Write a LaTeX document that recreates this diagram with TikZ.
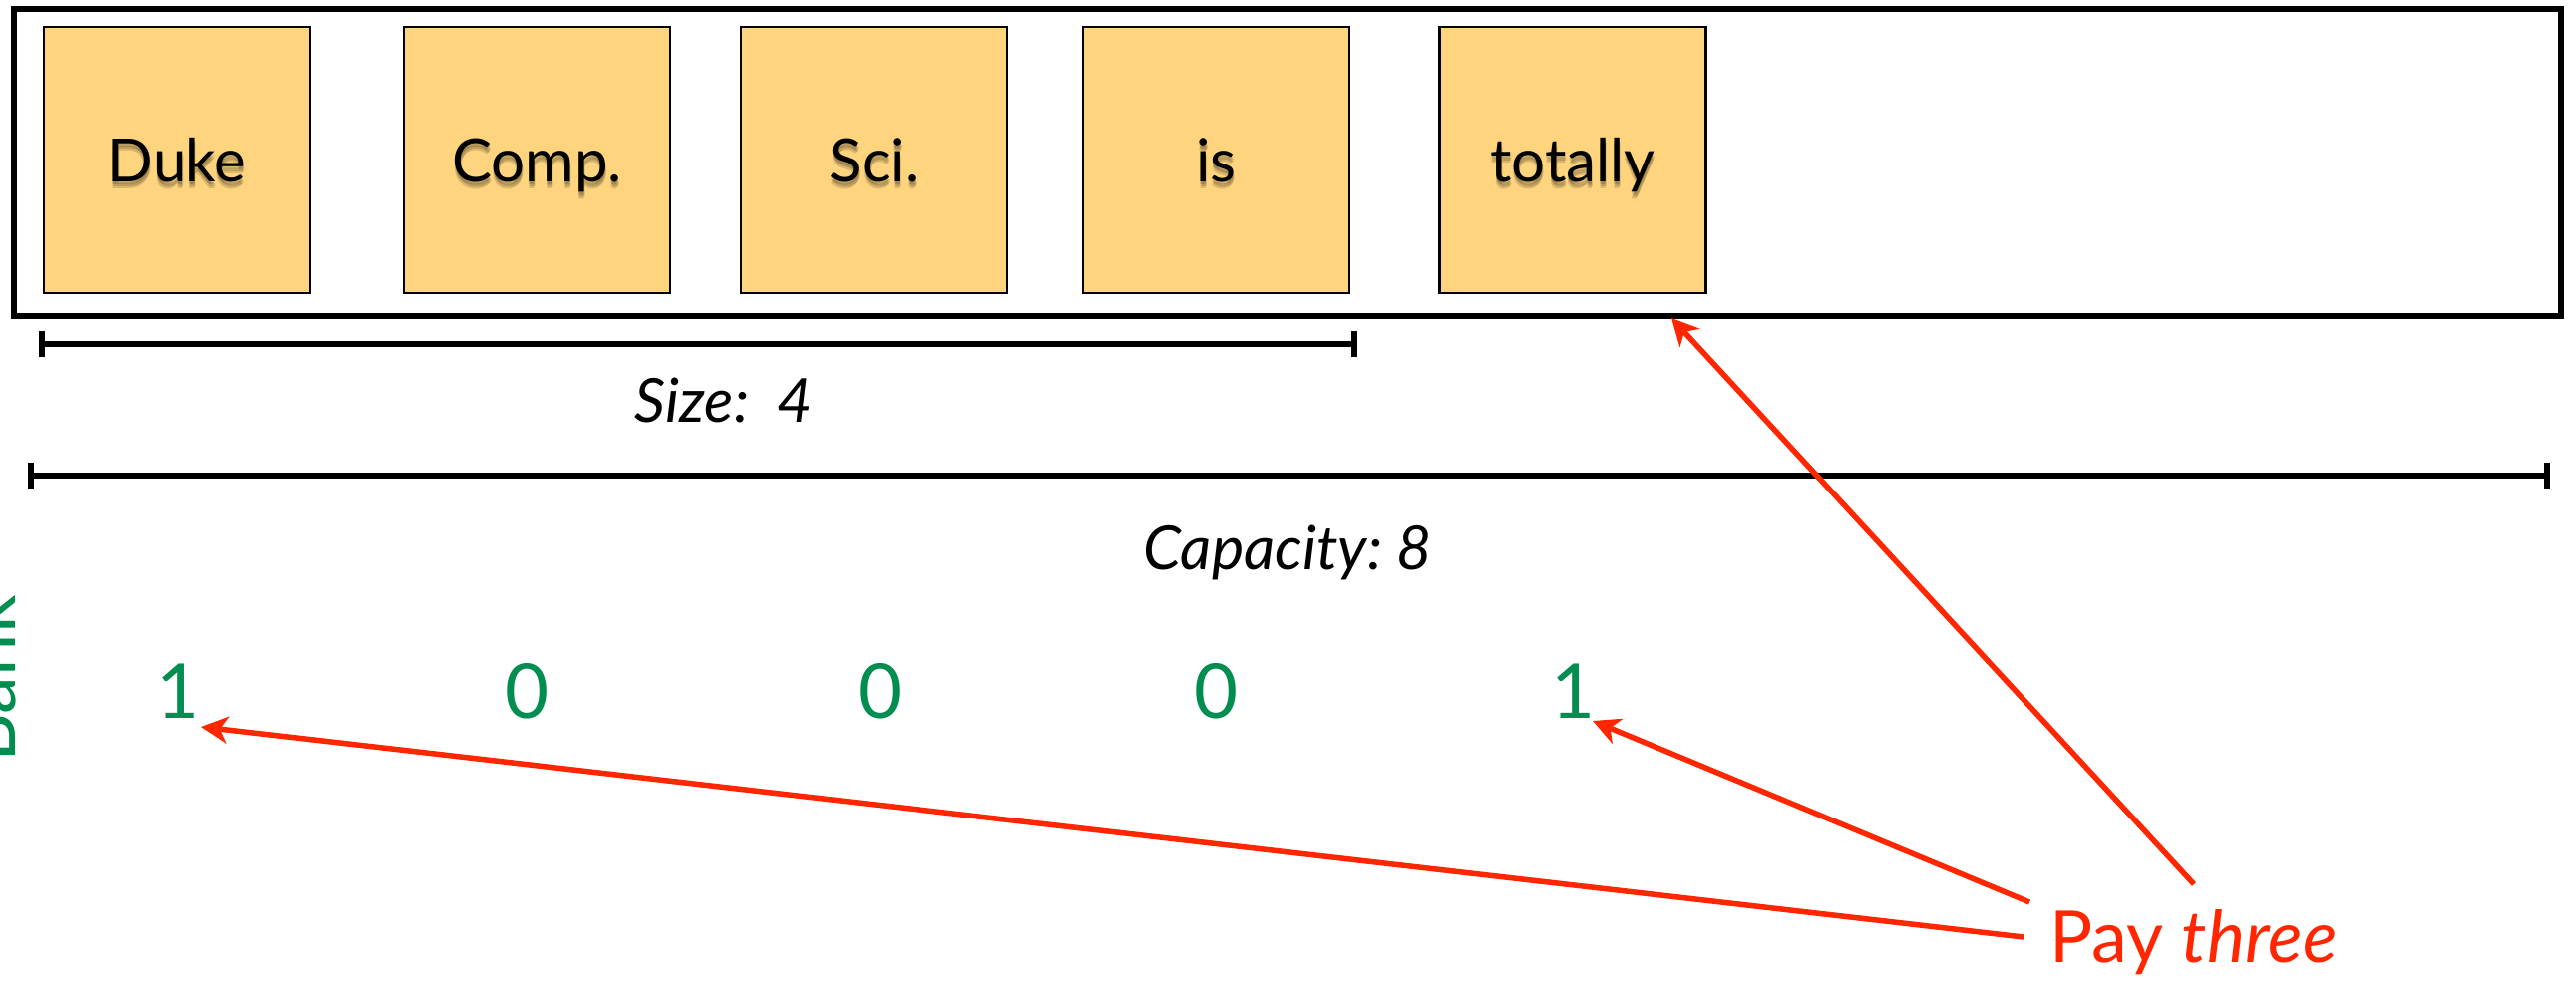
\documentclass[tikz,border=0pt]{standalone}
\usepackage{fontspec}
\setmainfont{Lato}
\usetikzlibrary{arrows.meta}
\definecolor{cellfill}{RGB}{254,212,126}
\definecolor{bankgreen}{RGB}{0,142,80}
\definecolor{payred}{RGB}{255,38,0}
\tikzset{
  cell/.style={draw=black, line width=2.5pt, fill=cellfill, minimum width=267pt, minimum height=267pt, inner sep=0pt},
  word/.style={font=\fontsize{60}{60}\selectfont, text=black, anchor=base, inner sep=0pt},
  wordshadow/.style={word, text=black, opacity=0.14},
  frame/.style={draw=black, line width=5.5pt},
  span/.style={line width=5.5pt},
  tick/.style={line width=6pt},
  dimlabel/.style={font=\fontsize{61}{61}\selectfont\itshape, anchor=base, inner sep=0pt},
  digit/.style={font=\fontsize{76}{76}\selectfont, text=bankgreen, anchor=base, inner sep=0pt},
  paylabel/.style={font=\fontsize{72}{72}\selectfont, text=payred, anchor=base west, inner sep=0pt},
  pointer/.style={draw=payred, line width=5.5pt, -{Stealth[length=27pt, width=27pt, inset=8pt]}}
}
\begin{document}
\begin{tikzpicture}[x=1pt, y={(0pt,-1pt)}]
\useasboundingbox (0,0) rectangle (2583,985);

% array frame
\draw[frame] (14,9) rectangle (2568,317);

% filled cells with their words (soft drop shadow under each word)
\foreach \n/\x/\w in {duke/177.5/Duke, comp/538.5/Comp., sci/876.5/Sci., is/1219.5/is, tot/1577/totally} {
  \node[cell] (\n) at (\x,160.5) {};
  \foreach \dx/\dy in {0/3, 1/5, 0/7} {
    \node[wordshadow] at ([shift={(\dx,\dy+22)}]\n.center) {\w};
  }
  \node[word] (\n-text) at ([shift={(0,22)}]\n.center) {\w};
}

% size span
\coordinate (s0) at (42,345);
\coordinate (s1) at (1358,345);
\draw[span] (s0) -- (s1);
\draw[tick] ([yshift=-13pt]s0) -- ([yshift=13pt]s0);
\draw[tick] ([yshift=-13pt]s1) -- ([yshift=13pt]s1);
\node[dimlabel] (size) at (726,423) {Size:~~4};

% capacity span
\coordinate (c0) at (31,477);
\coordinate (c1) at (2554,477);
\draw[span] (c0) -- (c1);
\draw[tick] ([yshift=-13pt]c0) -- ([yshift=13pt]c0);
\draw[tick] ([yshift=-13pt]c1) -- ([yshift=13pt]c1);
\node[dimlabel] (cap) at (1291,571) {Capacity:~8};

% bank counters
\node[digit, rotate=90, anchor=base west] (bank) at (15,765) {Bank};
\node[digit] (d1) at (179,720) {1};
\node[digit] (d2) at (529,720) {0};
\node[digit] (d3) at (883,720) {0};
\node[digit] (d4) at (1220,720) {0};
\node[digit] (d5) at (1578,720) {1};

% payment note and its pointers
\node[paylabel] (pay) at (2055,965) {Pay \textit{three}};
\coordinate (from1) at (2200,887);
\coordinate (from2) at (2035,905);
\coordinate (from3) at (2029,940);
\coordinate (to1) at (1676,319);
\coordinate (to2) at (1597,723);
\coordinate (to3) at (202,729);
\draw[pointer] (from1) -- (to1);
\draw[pointer] (from2) -- (to2);
\draw[pointer] (from3) -- (to3);
\end{tikzpicture}
\end{document}
